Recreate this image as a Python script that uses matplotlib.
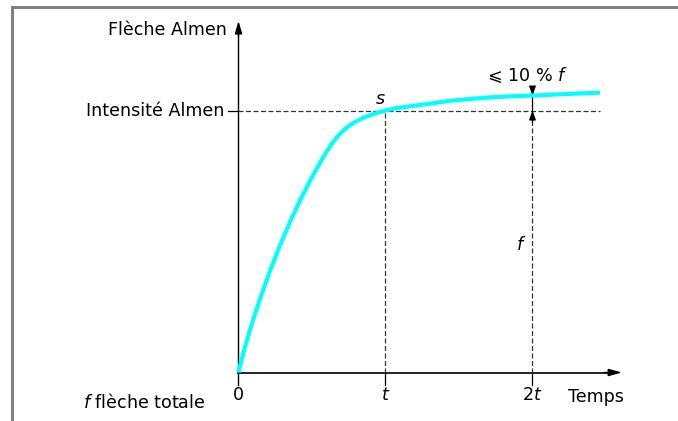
import matplotlib
matplotlib.use("Agg")
import matplotlib.pyplot as plt
from matplotlib.lines import Line2D

plt.rcParams['font.family'] = ['DejaVu Sans']
plt.rcParams['mathtext.fontset'] = 'dejavusans'

# Data (time in units of t, deflection in units of Almen intensity)
time = [0.0, 0.017, 0.044, 0.078, 0.112, 0.146, 0.214, 0.282, 0.350, 0.418,
        0.486, 0.554, 0.595, 0.636, 0.677, 0.718, 0.759, 0.799, 0.840, 0.881,
        0.922, 0.963, 1.0, 1.085, 1.167, 1.235, 1.337, 1.439, 1.575, 1.711,
        1.847, 2.0, 2.153, 2.323, 2.459]
deflection = [0.0, 0.040, 0.097, 0.162, 0.223, 0.280, 0.387, 0.485, 0.574, 0.656,
              0.731, 0.800, 0.839, 0.874, 0.903, 0.926, 0.944, 0.958, 0.970, 0.979,
              0.987, 0.994, 1.0, 1.010, 1.016, 1.021, 1.029, 1.037, 1.044, 1.050,
              1.054, 1.057, 1.061, 1.065, 1.068]
tick_positions = [0, 1, 2]
tick_labels = ["0", "$t$", "2$t$"]
intensity = 1.0
s_time = 1.0
check_time = 2.0
deflection_at_check = 1.057

W, H = 678, 421
fig = plt.figure(figsize=(W / 100, H / 100), dpi=100)
ax = fig.add_axes([0, 0, 1, 1])
ox, oy, sx, sy = 238.5, 372.5, 147.0, 262.0
ax.set_xlim(-ox / sx, (W - ox) / sx)
ax.set_ylim((oy - H) / sy, oy / sy)
ax.axis('off')

k = 'black'
fs = 12.6
below = -12 / sy

# frame (gray border)
fig.add_artist(Line2D([12 / W, 1], [1 - 7 / H, 1 - 7 / H], color='#808080', lw=2.2))
fig.add_artist(Line2D([12 / W, 12 / W], [0, 1 - 7 / H], color='#808080', lw=2.2))

# axes with arrows
y_top = (oy - 21) / sy
x_end = (622 - ox) / sx
ax.plot([0, 0], [below, y_top - 0.03], color=k, lw=1.0)
ax.annotate('', xy=(0, y_top), xytext=(0, y_top - 0.06),
            arrowprops=dict(arrowstyle='-|>,head_length=0.75,head_width=0.22',
                            color=k, lw=1.0, shrinkA=0, shrinkB=0))
ax.plot([0, x_end - 0.05], [0, 0], color=k, lw=1.2)
ax.annotate('', xy=(x_end, 0), xytext=(x_end - 0.12, 0),
            arrowprops=dict(arrowstyle='-|>,head_length=0.8,head_width=0.22',
                            color=k, lw=1.0, shrinkA=0, shrinkB=0))

# ticks below the axis
for tp in tick_positions[1:]:
    ax.plot([tp, tp], [below, 0], color=k, lw=0.9)

dash = dict(color='#333333', lw=0.9, linestyle=(0, (4, 2)))
# horizontal intensity line
ax.plot([-10 / sx, 0], [intensity, intensity], color=k, lw=0.9)
ax.plot([0, 2.459], [intensity, intensity], **dash)
# vertical at t
ax.plot([s_time, s_time], [0, intensity], **dash)
# vertical at 2t
arrow_low = (oy - 122) / sy
arrow_high = (oy - 87) / sy
ax.plot([check_time, check_time], [0, arrow_low], **dash)
ax.plot([check_time, check_time], [arrow_low, arrow_high], color=k, lw=0.9)
ax.annotate('', xy=(check_time, deflection_at_check), xytext=(check_time, arrow_high),
            arrowprops=dict(arrowstyle='-|>,head_length=0.55,head_width=0.2',
                            color=k, lw=0.9, shrinkA=0, shrinkB=0))
ax.annotate('', xy=(check_time, intensity), xytext=(check_time, arrow_low),
            arrowprops=dict(arrowstyle='-|>,head_length=0.55,head_width=0.2',
                            color=k, lw=0.9, shrinkA=0, shrinkB=0))

# curve
ax.plot(time, deflection, color='#00FFFF', lw=3.0, solid_capstyle='butt',
        solid_joinstyle='round', zorder=5)

# texts
ax.text(-11.5 / sx, (oy - 30) / sy, "Flèche Almen", ha='right', va='center', fontsize=fs)
ax.text(-14.5 / sx, intensity, "Intensité Almen", ha='right', va='center', fontsize=fs)
ax.text(0.966, (oy - 99) / sy, "$s$", ha='center', va='center', fontsize=fs)
ax.text(1.966, (oy - 75) / sy, "⩽ 10 % $f$", ha='center', va='center', fontsize=fs)
ax.text(1.925, (oy - 244.5) / sy, "$f$", ha='center', va='center', fontsize=fs)
for tp, tl in zip(tick_positions, tick_labels):
    ax.text(tp, (oy - 395) / sy, tl, ha='center', va='center', fontsize=fs)
ax.text((568 - ox) / sx, (oy - 397) / sy, "Temps", ha='left', va='center', fontsize=fs)
ax.text((83 - ox) / sx, (oy - 402) / sy, "$f$ flèche totale", ha='left', va='center', fontsize=fs)

fig.savefig("out.png", dpi=100)
